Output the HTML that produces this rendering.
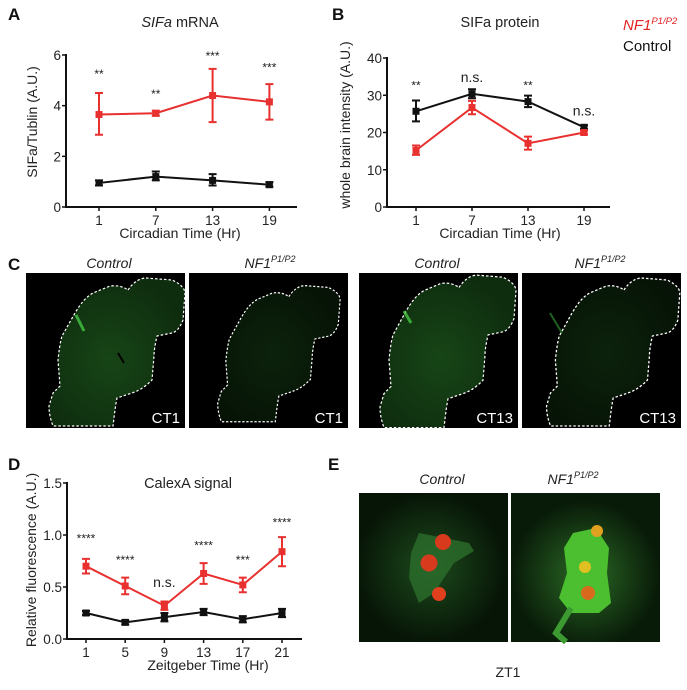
<!DOCTYPE html>
<html><head><meta charset="utf-8">
<style>
body{margin:0;background:#fff;}
svg{display:block;font-family:"Liberation Sans",Arial,sans-serif;}
.tk{font-size:13.5px;fill:#222;}
.ax{font-size:14px;fill:#222;}
.ttl{font-size:14.5px;fill:#222;}
.pl{font-size:17px;font-weight:bold;fill:#111;}
.sig{font-size:12px;fill:#222;}
</style></head>
<body>
<svg id="fig" width="687" height="690" viewBox="0 0 687 690">
<defs>
<radialGradient id="gC" cx="45%" cy="55%" r="60%"><stop offset="0" stop-color="#174517"/><stop offset="1" stop-color="#0e2c0e"/></radialGradient>
<radialGradient id="gN" cx="45%" cy="50%" r="60%"><stop offset="0" stop-color="#0c220c"/><stop offset="1" stop-color="#061306"/></radialGradient>
<radialGradient id="gE1" cx="48%" cy="50%" r="50%"><stop offset="0" stop-color="#1c4a1c"/><stop offset="1" stop-color="#071507"/></radialGradient>
<radialGradient id="gE2" cx="50%" cy="55%" r="50%"><stop offset="0" stop-color="#2b6a25"/><stop offset="1" stop-color="#081a08"/></radialGradient>
<path id="brain" d="M102,17 C108,8 115,5 120,5 L146,7 C155,11 159,16 159,20 L157,47 C154,55 150,59 146,60 L131,63 C129,72 128,78 128,83 L126,107 C118,115 112,118 106,120 L91,125 C89,135 88,145 87,153 L27,153 C24,145 23,139 23,133 L27,120 C30,117 32,115 34,113 L32,87 C33,78 34,70 36,63 L49,40 C55,30 60,24 67,20 L84,13 C92,12 98,14 102,17 Z"/>
</defs>

<text class="pl" x="8" y="20">A</text>
<text class="pl" x="332" y="20">B</text>
<text class="pl" x="8" y="270">C</text>
<text class="pl" x="8" y="470">D</text>
<text class="pl" x="328" y="470">E</text>

<text class="ttl" x="180" y="27" text-anchor="middle"><tspan font-style="italic">SIFa</tspan> mRNA</text>
<text class="ttl" x="500" y="27" text-anchor="middle">SIFa protein</text>
<text class="ttl" x="188" y="488" text-anchor="middle">CalexA signal</text>

<g>
<text x="623" y="30" font-size="15" fill="#e32222" font-style="italic">NF1<tspan font-size="9.5" dy="-6">P1/P2</tspan></text>
<text x="623" y="51" font-size="15" fill="#111">Control</text>
</g>

<g id="charts"></g>

<g>
<text x="109" y="268" font-size="14" font-style="italic" text-anchor="middle" fill="#222">Control</text>
<text x="270" y="268" font-size="14" font-style="italic" text-anchor="middle" fill="#222">NF1<tspan font-size="9" dy="-6">P1/P2</tspan></text>
<text x="437" y="268" font-size="14" font-style="italic" text-anchor="middle" fill="#222">Control</text>
<text x="600" y="268" font-size="14" font-style="italic" text-anchor="middle" fill="#222">NF1<tspan font-size="9" dy="-6">P1/P2</tspan></text>

<g transform="translate(26,273)">
<rect width="159" height="155" fill="#000"/>
<use href="#brain" fill="url(#gC)" stroke="#fff" stroke-width="1.2" stroke-dasharray="2.5,2"/>
<path d="M50,42 L58,58" stroke="#4bd84b" stroke-width="3" opacity="0.7"/>
<path d="M92,80 L98,90" stroke="#000" stroke-width="2"/>
<text x="154" y="150" font-size="15" fill="#fff" text-anchor="end">CT1</text>
</g>
<g transform="translate(189,273)">
<rect width="159" height="155" fill="#000"/>
<g transform="translate(8,8) scale(0.9,0.92)"><use href="#brain" fill="url(#gN)" stroke="#fff" stroke-width="1.3" stroke-dasharray="2.5,2"/></g>
<text x="154" y="150" font-size="15" fill="#fff" text-anchor="end">CT1</text>
</g>
<g transform="translate(359,273)">
<rect width="159" height="155" fill="#000"/>
<g transform="translate(-2,-3) scale(1.0,1.03)"><use href="#brain" fill="url(#gC)" stroke="#fff" stroke-width="1.2" stroke-dasharray="2.5,2"/></g>
<path d="M45,38 L52,50" stroke="#4bd84b" stroke-width="3" opacity="0.7"/>
<text x="154" y="150" font-size="15" fill="#fff" text-anchor="end">CT13</text>
</g>
<g transform="translate(522,273)">
<rect width="159" height="155" fill="#000"/>
<g transform="translate(2,0) scale(0.98,1)"><use href="#brain" fill="url(#gN)" stroke="#fff" stroke-width="1.3" stroke-dasharray="2.5,2"/></g>
<path d="M28,40 L40,60" stroke="#2f8a2f" stroke-width="2" opacity="0.7"/>
<text x="154" y="150" font-size="15" fill="#fff" text-anchor="end">CT13</text>
</g>
</g>

<g>
<text x="442" y="484" font-size="14" font-style="italic" text-anchor="middle" fill="#222">Control</text>
<text x="573" y="484" font-size="14" font-style="italic" text-anchor="middle" fill="#222">NF1<tspan font-size="9" dy="-6">P1/P2</tspan></text>
<g transform="translate(359,493)">
<rect width="149" height="149" fill="url(#gE1)"/>
<path d="M60,40 L110,50 L115,58 L95,70 L75,100 L60,110 L50,85 L52,60 Z" fill="#2c6e2c" opacity="0.8"/>
<circle cx="84" cy="49" r="8" fill="#d83a1e"/>
<circle cx="70" cy="70" r="8.5" fill="#d83a1e"/>
<circle cx="80" cy="101" r="7" fill="#e0401e"/>
</g>
<g transform="translate(511,493)">
<rect width="149" height="149" fill="url(#gE2)"/>
<path d="M62,40 L85,35 L98,55 L96,80 L100,110 L88,120 L60,120 L48,105 L56,80 L53,55 Z" fill="#4bbf2f"/>
<path d="M60,115 L45,140 L55,149" stroke="#3c9a30" stroke-width="6" fill="none"/>
<circle cx="86" cy="38" r="6" fill="#e0a020"/>
<circle cx="74" cy="74" r="6" fill="#e0c020"/>
<circle cx="77" cy="100" r="7" fill="#d86a1e"/>
</g>
<text x="508" y="677" font-size="14" text-anchor="middle" fill="#222">ZT1</text>
</g>
</svg>

<script>
const aCategories = ["1","7","13","19"];
const aNf1 = [3.65, 3.7, 4.4, 4.15];
const aNf1Lo = [2.85, 3.6, 3.35, 3.45];
const aNf1Hi = [4.5, 3.8, 5.45, 4.85];
const aCtl = [0.95, 1.2, 1.05, 0.88];
const aCtlLo = [0.85, 1.05, 0.85, 0.8];
const aCtlHi = [1.05, 1.4, 1.3, 0.98];
const aSig = ["**","**","***","***"];
const aSigVal = [5.1, 4.3, 5.8, 5.35];
const aTicks = [0, 2, 4, 6];

const bCategories = ["1","7","13","19"];
const bCtl = [25.7, 30.4, 28.3, 21.4];
const bCtlLo = [23, 29.2, 26.8, 20.9];
const bCtlHi = [28.6, 31.6, 29.9, 21.9];
const bNf1 = [15.2, 26.7, 17.1, 20.0];
const bNf1Lo = [14.0, 24.9, 15.4, 19.5];
const bNf1Hi = [16.5, 28.5, 18.9, 20.5];
const bSig = ["**","n.s.","**","n.s."];
const bSigVal = [31.5, 33.5, 31.5, 24.5];
const bTicks = [0, 10, 20, 30, 40];

const dCategories = ["1","5","9","13","17","21"];
const dNf1 = [0.70, 0.51, 0.32, 0.63, 0.52, 0.84];
const dNf1Lo = [0.63, 0.43, 0.28, 0.53, 0.45, 0.70];
const dNf1Hi = [0.77, 0.59, 0.36, 0.73, 0.59, 0.98];
const dCtl = [0.25, 0.16, 0.21, 0.26, 0.19, 0.25];
const dCtlLo = [0.23, 0.14, 0.17, 0.23, 0.16, 0.21];
const dCtlHi = [0.27, 0.18, 0.25, 0.29, 0.22, 0.29];
const dSig = ["****","****","n.s.","****","***","****"];
const dSigVal = [0.93, 0.72, 0.50, 0.86, 0.72, 1.08];
const dTicks = [0.0, 0.5, 1.0, 1.5];
const dTickLabels = ["0.0","0.5","1.0","1.5"];

const NS = "http://www.w3.org/2000/svg";
const root = document.getElementById("charts");
function mk(tag, attrs, parent) {
  const e = document.createElementNS(NS, tag);
  for (const k in attrs) e.setAttribute(k, attrs[k]);
  (parent || root).appendChild(e);
  return e;
}

function drawChart(c) {
  const g = mk("g", {});
  
  
  const yMax = c.ticks[c.ticks.length - 1];
  const yS = v => c.y0 - (v - c.ticks[0]) / (yMax - c.ticks[0]) * (c.y0 - c.yTop);
  const xS = i => c.xFirst + i * c.xStep;
  const ya = mk("line", {x1: c.ax, x2: c.ax, y1: c.yTop - 1, y2: c.y0 + 1, stroke: "#111", "stroke-width": 2}, g);
  
  
  const xa = mk("line", {x1: c.ax - 1, x2: c.xEnd, y1: c.y0, y2: c.y0, stroke: "#111", "stroke-width": 2}, g);
  
  
  c.ticks.forEach((t, i) => {
    const y = yS(t);
    mk("line", {x1: c.ax - 4, x2: c.ax, y1: y, y2: y, stroke: "#111", "stroke-width": 1.5}, g);
    const tl = mk("text", {x: c.ax - 5, y: y + 5, "text-anchor": "end", class: "tk"}, g);
    tl.textContent = c.tickLabels ? c.tickLabels[i] : String(t);
    
    
  });
  c.cats.forEach((cat, i) => {
    const x = xS(i);
    mk("line", {x1: x, x2: x, y1: c.y0, y2: c.y0 + 4, stroke: "#111", "stroke-width": 1.5}, g);
    const tl = mk("text", {x: x, y: c.y0 + 18, "text-anchor": "middle", class: "tk"}, g);
    tl.textContent = cat;
    
    
  });
  const xt = mk("text", {x: c.xTitleX, y: c.y0 + 31, "text-anchor": "middle", class: "ax"}, g);
  xt.textContent = c.xTitle;
  
  
  const yt = mk("text", {x: 0, y: 0, "text-anchor": "middle", class: "ax", transform: "translate(" + c.yTitleX + "," + c.yTitleY + ") rotate(-90)"}, g);
  yt.textContent = c.yTitle;
  
  

  c.series.forEach(s => {
    const sg = mk("g", {}, g);
    
    
    const pts = s.v.map((v, i) => xS(i) + "," + yS(v)).join(" ");
    mk("polyline", {points: pts, fill: "none", stroke: s.color, "stroke-width": 2}, sg);
    s.v.forEach((v, i) => {
      const x = xS(i);
      const eb = mk("path", {d: "M" + (x - 4) + "," + yS(s.hi[i]) + "H" + (x + 4) + "M" + x + "," + yS(s.hi[i]) + "V" + yS(s.lo[i]) + "M" + (x - 4) + "," + yS(s.lo[i]) + "H" + (x + 4), stroke: s.color, "stroke-width": 2, fill: "none"}, sg);
      
      
      const m = mk("rect", {x: x - 3.5, y: yS(v) - 3.5, width: 7, height: 7, fill: s.color}, sg);
      
      
    });
  });
  c.sig.forEach((s, i) => {
    const t = mk("text", {x: xS(i), y: yS(c.sigVal[i]), "text-anchor": "middle", class: s === "n.s." ? "ax" : "sig"}, g);
    t.textContent = s;
    
    
  });
}

const RED = "#e8302f", BLK = "#111";
drawChart({name: "chart-a", ax: 66, y0: 207, yTop: 55, xFirst: 99, xStep: 56.8, xEnd: 297,
  ticks: aTicks, cats: aCategories, xTitle: "Circadian Time (Hr)", xTitleX: 180,
  yTitle: "SIFa/Tublin (A.U.)", yTitleX: 37, yTitleY: 122,
  series: [
    {name: "series-nf1", color: RED, v: aNf1, lo: aNf1Lo, hi: aNf1Hi},
    {name: "series-control", color: BLK, v: aCtl, lo: aCtlLo, hi: aCtlHi}],
  sig: aSig, sigVal: aSigVal});
drawChart({name: "chart-b", ax: 387, y0: 207, yTop: 58, xFirst: 416, xStep: 56, xEnd: 610,
  ticks: bTicks, cats: bCategories, xTitle: "Circadian Time (Hr)", xTitleX: 500,
  yTitle: "whole brain intensity (A.U.)", yTitleX: 350, yTitleY: 125,
  series: [
    {name: "series-control", color: BLK, v: bCtl, lo: bCtlLo, hi: bCtlHi},
    {name: "series-nf1", color: RED, v: bNf1, lo: bNf1Lo, hi: bNf1Hi}],
  sig: bSig, sigVal: bSigVal});
drawChart({name: "chart-d", ax: 67, y0: 639, yTop: 483, xFirst: 86, xStep: 39.2, xEnd: 302,
  ticks: dTicks, tickLabels: dTickLabels, cats: dCategories, xTitle: "Zeitgeber Time (Hr)", xTitleX: 208,
  yTitle: "Relative fluorescence (A.U.)", yTitleX: 36, yTitleY: 560,
  series: [
    {name: "series-nf1", color: RED, v: dNf1, lo: dNf1Lo, hi: dNf1Hi},
    {name: "series-control", color: BLK, v: dCtl, lo: dCtlLo, hi: dCtlHi}],
  sig: dSig, sigVal: dSigVal});
</script>
</body></html>
